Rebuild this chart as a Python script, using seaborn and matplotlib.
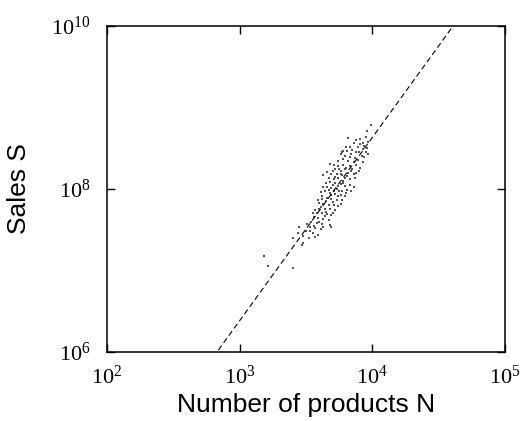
import numpy as np
import pandas as pd
import matplotlib
matplotlib.use("Agg")
import matplotlib.pyplot as plt
from matplotlib.ticker import FuncFormatter
import seaborn as sns

# ==============================
# Data (log10 units)
# ==============================
log_n = [
    3.99, 3.96, 3.95, 3.93, 3.82, 3.88, 3.91, 3.86, 3.94, 3.83, 3.89, 3.78, 3.77,
    3.81, 3.84, 3.88, 3.93, 3.96, 3.92, 3.76, 3.79, 3.83, 3.87, 3.94, 3.97, 3.74,
    3.78, 3.82, 3.86, 3.89, 3.93, 3.90, 3.85, 3.80, 3.91, 3.97, 3.95,
    3.71, 3.74, 3.78, 3.83, 3.88, 3.91, 3.68, 3.72, 3.76, 3.79, 3.84, 3.88, 3.69,
    3.73, 3.77, 3.81, 3.86, 3.67, 3.71, 3.74, 3.78, 3.83, 3.80, 3.75, 3.70, 3.85,
    3.90, 3.76, 3.82, 3.66, 3.72, 3.79, 3.87, 3.63,
    3.68, 3.72, 3.76, 3.79, 3.83, 3.66, 3.69, 3.73, 3.77, 3.81, 3.84, 3.64, 3.68,
    3.72, 3.76, 3.79, 3.62, 3.70, 3.74, 3.65, 3.75, 3.71, 3.67, 3.78, 3.80, 3.61,
    3.63, 3.86, 3.74, 3.69,
    3.66, 3.69, 3.73, 3.77, 3.59, 3.63, 3.67, 3.71, 3.74, 3.61, 3.64, 3.68, 3.72,
    3.57, 3.58, 3.62, 3.66, 3.69, 3.56, 3.59, 3.63, 3.67, 3.70, 3.65, 3.60, 3.76,
    3.62, 3.65, 3.70, 3.60, 3.55, 3.64,
    3.54, 3.58, 3.62, 3.68, 3.53, 3.57, 3.61, 3.45, 3.50, 3.55, 3.59, 3.48, 3.52,
    3.57, 3.40, 3.47, 3.48, 3.69, 3.63, 3.51, 3.56, 3.60, 3.53, 3.44, 3.18, 3.21,
    3.40,
]
log_s = [
    8.79, 8.71, 8.64, 8.57, 8.63, 8.60, 8.55, 8.57, 8.53, 8.51, 8.52, 8.47, 8.45,
    8.47, 8.43, 8.45, 8.49, 8.50, 8.41, 8.43, 8.41, 8.39, 8.38, 8.39, 8.43, 8.35,
    8.37, 8.34, 8.33, 8.36, 8.33, 8.46, 8.48, 8.52, 8.62, 8.58, 8.45,
    8.30, 8.28, 8.30, 8.28, 8.29, 8.26, 8.31, 8.24, 8.22, 8.24, 8.22, 8.20, 8.19,
    8.18, 8.17, 8.16, 8.18, 8.14, 8.12, 8.13, 8.10, 8.12, 8.26, 8.25, 8.22, 8.25,
    8.22, 8.19, 8.20, 8.21, 8.15, 8.14, 8.14, 8.17,
    8.09, 8.07, 8.06, 8.04, 8.05, 8.03, 8.01, 8.00, 7.98, 7.99, 7.98, 7.97, 7.95,
    7.94, 7.93, 7.92, 7.91, 8.05, 8.04, 8.08, 7.97, 7.98, 7.99, 8.08, 7.95, 7.96,
    8.02, 8.03, 7.91, 7.93,
    7.89, 7.88, 7.86, 7.87, 7.87, 7.82, 7.81, 7.80, 7.79, 7.78, 7.76, 7.75, 7.74,
    7.74, 7.70, 7.70, 7.69, 7.68, 7.66, 7.64, 7.63, 7.62, 7.84, 7.85, 7.83, 7.82,
    7.88, 7.72, 7.71, 7.75, 7.71, 7.67,
    7.60, 7.58, 7.57, 7.56, 7.54, 7.52, 7.51, 7.54, 7.48, 7.46, 7.44, 7.42, 7.40,
    7.41, 7.40, 7.31, 7.34, 7.54, 7.53, 7.57, 7.55, 7.59, 7.49, 7.46, 7.18, 7.06,
    7.03,
]

# power-law fit drawn as dashed line: S = s0 * (N / n0) ** exponent
fit_exponent = 2.25
fit_n0 = 675
fit_s0 = 1e6

df = pd.DataFrame({"N": 10 ** np.array(log_n), "S": 10 ** np.array(log_s)})
fit_x = np.logspace(2, 5, 60)
fit = pd.DataFrame({"N": fit_x, "S": fit_s0 * (fit_x / fit_n0) ** fit_exponent})

# ==============================
# Style
# ==============================
sns.set_style("ticks")
plt.rcParams["font.family"] = ["Liberation Sans", "DejaVu Sans"]
plt.rcParams["text.color"] = "black"
plt.rcParams["axes.labelcolor"] = "black"
plt.rcParams["mathtext.fontset"] = "custom"
plt.rcParams["mathtext.rm"] = "Liberation Serif"
plt.rcParams["mathtext.it"] = "Liberation Serif:italic"

fig = plt.figure(figsize=(5.24, 4.21), dpi=100)
ax = fig.add_axes([0.204, 0.164, 0.760, 0.774])

sns.lineplot(data=fit, x="N", y="S", ax=ax, color="black", linewidth=0.8,
             linestyle=(0, (5, 3)), legend=False)
sns.scatterplot(data=df, x="N", y="S", ax=ax, color="#555555", s=2.2,
                marker="s", linewidth=0, legend=False)

ax.set_xscale("log")
ax.set_yscale("log")
ax.set_xlim(1e2, 1e5)
ax.set_ylim(1e6, 1e10)
ax.set_xticks([1e2, 1e3, 1e4, 1e5])
ax.set_yticks([1e6, 1e8, 1e10])
ax.minorticks_off()
pow10 = FuncFormatter(lambda v, pos: r"$10^{%d}$" % round(np.log10(v)))
ax.xaxis.set_major_formatter(pow10)
ax.yaxis.set_major_formatter(pow10)

ax.tick_params(direction="in", length=6, width=1.0, top=True, right=True,
               labelsize=16, colors="black")
ax.tick_params(axis="x", pad=10)
ax.tick_params(axis="y", pad=12)
for sp in ax.spines.values():
    sp.set_linewidth(1.1)
    sp.set_color("black")

ax.set_xlabel("Number of products N", fontsize=19, labelpad=3)
ax.set_ylabel("Sales S", fontsize=19, labelpad=14)

fig.savefig("out.png", dpi=100)
